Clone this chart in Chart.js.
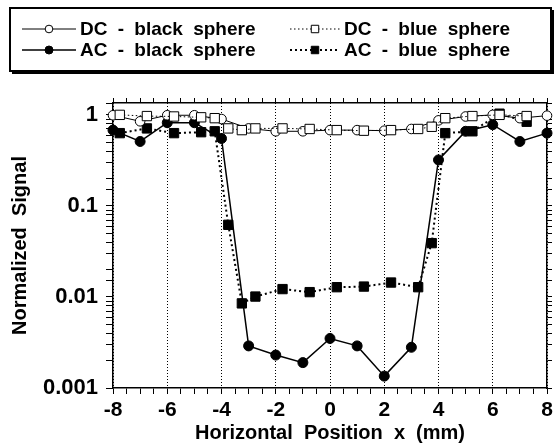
<!DOCTYPE html>
<html>
<head>
<meta charset="utf-8">
<script src="https://cdn.jsdelivr.net/npm/chart.js@4"></script>
<style>
  body { margin: 0; background: #fff; }
  #wrap { width: 558px; height: 445px; position: relative; }
</style>
</head>
<body>
<div id="wrap"><canvas id="chart"></canvas></div>
<script>
// positions in mm
const xBlack = [-8, -7, -6, -5, -4, -3, -2, -1, 0, 1, 2, 3, 4, 5, 6, 7, 8];
const xBlue = [-7.75, -6.75, -5.75, -4.75, -4.25, -3.75, -3.25, -2.75, -1.75, -0.75, 0.25, 1.25, 2.25, 3.25, 3.75, 4.25, 5.25, 6.25, 7.25];

// normalized signal
const dcBlack = [0.99, 0.85, 0.99, 0.99, 0.90, 0.71, 0.66, 0.66, 0.68, 0.68, 0.67, 0.70, 0.87, 0.96, 1.00, 0.92, 0.98];
const acBlack = [0.68, 0.51, 0.82, 0.82, 0.55, 0.0029, 0.0023, 0.0019, 0.0035, 0.0029, 0.00135, 0.0028, 0.32, 0.66, 0.78, 0.51, 0.63];
const dcBlue = [1.0, 0.97, 0.96, 0.94, 0.92, 0.71, 0.68, 0.71, 0.71, 0.70, 0.68, 0.67, 0.68, 0.70, 0.74, 0.92, 0.97, 1.0, 0.97];
const acBlue = [0.63, 0.71, 0.63, 0.645, 0.66, 0.062, 0.0085, 0.0101, 0.0122, 0.0113, 0.0128, 0.013, 0.0144, 0.0128, 0.039, 0.63, 0.66, 1.03, 0.84];

const labels = ['DC - black sphere', 'AC - black sphere', 'DC - blue sphere', 'AC - blue sphere'];
const yTicks = [1, 0.1, 0.01, 0.001];

const FONT = "'Liberation Sans', Arial, sans-serif";

function pts(xs, ys) {
    return xs.map((x, i) => ({ x: x, y: ys[i] }));
}

const datasets = [
    {
        label: labels[2], data: pts(xBlue, dcBlue),
        borderColor: '#000', borderWidth: 1, borderDash: [1.5, 2.5],
        pointStyle: 'rect', pointRadius: 6.6, pointBackgroundColor: '#fff',
        pointBorderColor: '#000', pointBorderWidth: 1, clip: false,
    },
    {
        label: labels[0], data: pts(xBlack, dcBlack),
        borderColor: '#000', borderWidth: 1,
        pointStyle: 'circle', pointRadius: 4.8, pointBackgroundColor: '#fff',
        pointBorderColor: '#000', pointBorderWidth: 1, clip: false,
    },
    {
        label: labels[3], data: pts(xBlue, acBlue),
        borderColor: '#000', borderWidth: 2, borderDash: [2, 3],
        pointStyle: 'rect', pointRadius: 6.6, pointBackgroundColor: '#000',
        pointBorderColor: '#000', pointBorderWidth: 1, clip: false,
    },
    {
        label: labels[1], data: pts(xBlack, acBlack),
        borderColor: '#000', borderWidth: 1.5,
        pointStyle: 'circle', pointRadius: 5, pointBackgroundColor: '#000',
        pointBorderColor: '#000', pointBorderWidth: 1, clip: false,
    },
];

// boxed two-column legend drawn above the plot
const boxLegend = {
    id: 'boxLegend',
    afterDraw(chart) {
        const ctx = chart.ctx;
        ctx.save();
        ctx.fillStyle = '#000';
        ctx.fillRect(12, 71, 542, 3);
        ctx.fillRect(551, 10, 3, 63);
        ctx.strokeStyle = '#000';
        ctx.lineWidth = 2;
        ctx.strokeRect(10, 8, 541, 63);

        const items = [
            { ds: 1, x0: 22, x1: 76, y: 29 },
            { ds: 3, x0: 22, x1: 76, y: 50 },
            { ds: 0, x0: 290, x1: 340, y: 29 },
            { ds: 2, x0: 290, x1: 340, y: 50 },
        ];
        items.forEach(it => {
            const ds = datasets[it.ds];
            ctx.beginPath();
            ctx.setLineDash(ds.borderDash || []);
            ctx.lineWidth = ds.borderWidth;
            ctx.strokeStyle = '#000';
            ctx.moveTo(it.x0, it.y);
            ctx.lineTo(it.x1, it.y);
            ctx.stroke();
            ctx.setLineDash([]);
            ctx.fillStyle = ds.pointBackgroundColor;
            ctx.lineWidth = 1;
            Chart.helpers.drawPoint(ctx, {
                pointStyle: ds.pointStyle,
                radius: ds.pointRadius * 0.8,
                borderWidth: 1,
                rotation: 0,
            }, (it.x0 + it.x1) / 2, it.y);
            ctx.fillStyle = '#000';
            ctx.font = 'bold 19px ' + FONT;
            ctx.textBaseline = 'middle';
            ctx.textAlign = 'left';
            ctx.wordSpacing = '5px';
            ctx.fillText(ds.label, it.x1 + 4, it.y + 1);
        });
        ctx.restore();
    }
};

const xTickFont = { family: FONT, size: 21, weight: 'bold' };
const yTickFont = { family: FONT, size: 22, weight: 'bold' };
const titleFont = { family: FONT, size: 20, weight: 'bold' };

new Chart(document.getElementById('chart'), {
    type: 'scatter',
    data: { datasets: datasets },
    options: {
        responsive: true,
        maintainAspectRatio: false,
        animation: false,
        layout: { padding: { top: 93, right: 0, bottom: 0, left: 0 } },
        elements: { line: { tension: 0 } },
        datasets: { scatter: { showLine: true } },
        plugins: { legend: { display: false }, tooltip: { enabled: false } },
        scales: {
            x: {
                type: 'linear', position: 'bottom', min: -8, max: 8,
                afterFit(s) { s.height = 57; },
                ticks: {
                    stepSize: 0.5, autoSkip: false, maxRotation: 0, padding: 4,
                    color: '#000', font: xTickFont,
                    callback: v => (v % 2 === 0 ? String(v) : ''),
                },
                grid: {
                    color: c => (c.tick && c.tick.value % 2 === 0 ? '#000' : 'rgba(0,0,0,0)'),
                    tickColor: '#000', tickLength: 6, lineWidth: 1,
                },
                border: { color: '#000', width: 1.5, dash: [1, 2] },
                title: {
                    display: true, text: 'Horizontal  Position  x  (mm)',
                    color: '#000', font: titleFont, padding: { top: 0, bottom: 0 },
                },
            },
            x2: {
                type: 'linear', position: 'top', min: -8, max: 8, display: true,
                afterFit(s) { s.height = 10; },
                ticks: { stepSize: 0.5, autoSkip: false, font: { size: 1 }, callback: () => '' },
                grid: { drawOnChartArea: false, tickColor: '#000', tickLength: 5 },
                border: { color: '#000', width: 1.5 },
            },
            y: {
                type: 'logarithmic', position: 'left', min: 0.001, max: 1.35,
                afterFit(s) { s.width = 113; },
                ticks: {
                    autoSkip: false, padding: 8, color: '#000', font: yTickFont,
                    callback: v => (yTicks.some(t => Math.abs(t - v) < t * 1e-6) ? String(v) : ''),
                },
                grid: { drawOnChartArea: false, tickColor: '#000', tickLength: 7 },
                border: { color: '#000', width: 1.5 },
                title: {
                    display: true, text: 'Normalized  Signal',
                    color: '#000', font: titleFont, padding: { top: 8, bottom: 0 },
                },
            },
            y2: {
                type: 'logarithmic', position: 'right', min: 0.001, max: 1.35, display: true,
                afterFit(s) { s.width = 11; },
                ticks: { autoSkip: false, font: { size: 1 }, callback: () => '' },
                grid: { drawOnChartArea: false, tickColor: '#000', tickLength: 5 },
                border: { color: '#000', width: 1.5 },
            },
        },
    },
    plugins: [boxLegend],
});
</script>
</body>
</html>
